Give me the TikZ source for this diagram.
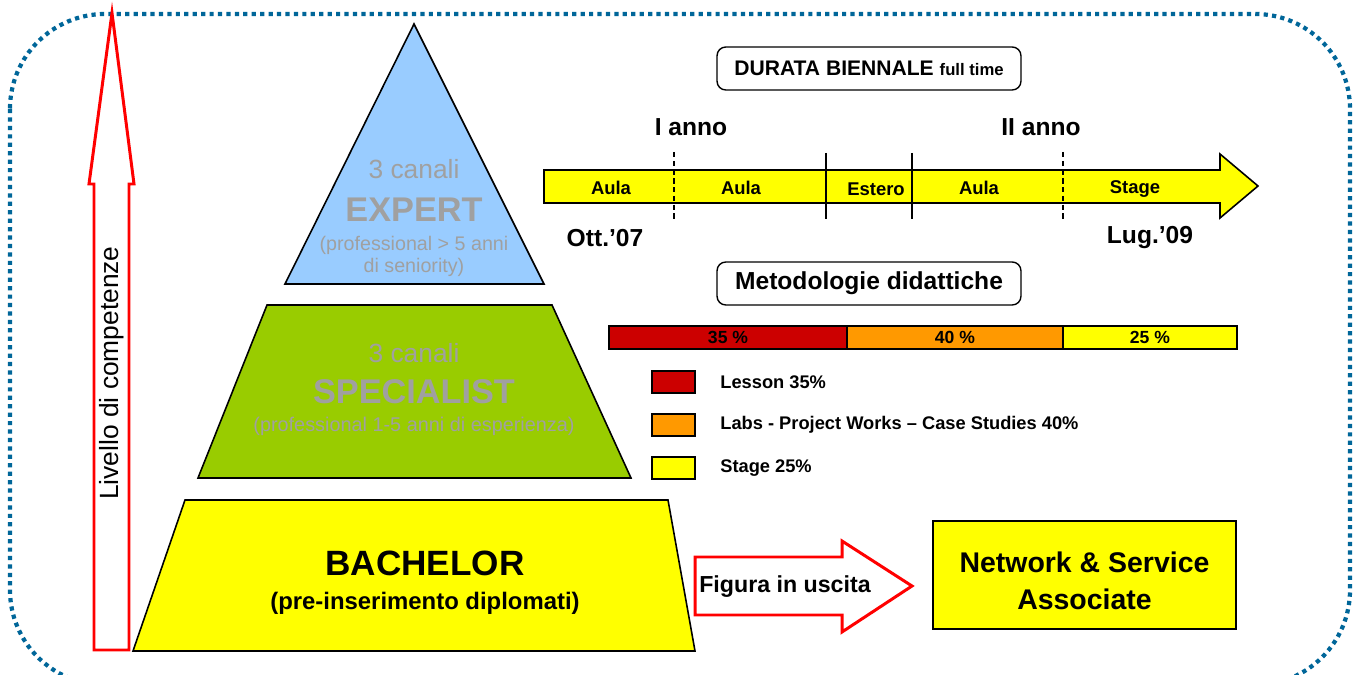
\documentclass[tikz,border=0pt]{standalone}
\usepackage{fontspec}
\setmainfont{Liberation Sans}
\usetikzlibrary{positioning}

\definecolor{bordo}{HTML}{006699}
\definecolor{celeste}{HTML}{99CCFF}
\definecolor{verde}{HTML}{99CC00}
\definecolor{giallo}{HTML}{FFFF00}
\definecolor{rosso}{HTML}{CC0000}
\definecolor{arancio}{HTML}{FF9900}
\definecolor{grigio}{HTML}{A0A0A0}

\newcommand\fpt[2]{\fontsize{#1}{#2}\selectfont}

\tikzset{
  livello/.style={draw=black, line width=0.9pt},
  grigiotxt/.style={text=grigio, align=center, inner sep=0pt},
  titolo/.style={draw=black, rounded corners=5pt, line width=0.8pt,
    minimum width=6.08cm, minimum height=0.86cm, inner sep=0pt},
  cella/.style={draw=black, line width=0.8pt, minimum height=0.46cm,
    inner sep=0pt, outer sep=0pt, font=\fpt{10}{12}\bfseries},
  quadro/.style={draw=black, line width=0.8pt, minimum width=0.86cm,
    minimum height=0.44cm, inner sep=0pt},
  voce/.style={anchor=west, inner sep=0pt, font=\fpt{10.4}{12}\bfseries},
  fase/.style={inner sep=0pt, font=\fpt{10.5}{12}\bfseries},
  rossa/.style={draw=red, line width=1.7pt, fill=white}
}

\begin{document}
\begin{tikzpicture}[x=0.02cm, y=-0.02cm, line join=miter]
\useasboundingbox (0,0) rectangle (1356,675);

% cornice
\draw[bordo, line width=2.4pt, dash pattern=on 2.4pt off 2.4pt, rounded corners=1.9cm]
  (10,14) rectangle (1350,685);

% freccia livello
\draw[rossa] (94,650) -- (94,184) -- (89,184) -- (112,13) -- (134,184)
  -- (129,184) -- (129,650) -- cycle;
\node[rotate=90, inner sep=0pt] (livello) at (112,373) {\fpt{15}{18}Livello di competenze};

% piramide
\draw[livello, fill=celeste] (414,24) -- (544,284) -- (285,284) -- cycle;
\draw[livello, fill=verde] (267,305) -- (552,305) -- (631,478) -- (198,478) -- cycle;
\draw[livello, fill=giallo] (185,500) -- (668,500) -- (695,651) -- (133,651) -- cycle;

\node[grigiotxt, font=\fpt{15}{18}] (excan) at (414,169) {3 canali};
\node[grigiotxt, font=\fpt{19.5}{22}\bfseries] (expert) at (414,210) {EXPERT};
\node[grigiotxt, font=\fpt{11.2}{12.5}] (exnote) at (414,256) {(professional > 5 anni\\di seniority)};
\node[grigiotxt, font=\fpt{15}{18}] (spcan) at (414,353) {3 canali};
\node[grigiotxt, font=\fpt{19.5}{22}\bfseries] (special) at (414,392) {SPECIALIST};
\node[grigiotxt, font=\fpt{11.3}{13}] (spnote) at (414,426) {(professional 1-5 anni di esperienza)};
\node[inner sep=0pt, font=\fpt{20}{24}\bfseries] (bachelor) at (425,563) {BACHELOR};
\node[inner sep=0pt, font=\fpt{13.6}{16}\bfseries] (banote) at (425,603) {(pre-inserimento diplomati)};

% durata
\node[titolo] (durata) at (869,68.5) {\fpt{12}{14}\bfseries DURATA BIENNALE {\fpt{9.5}{11}full time}};
\node[inner sep=0pt] (anno1) at (691,127) {\fpt{14}{16}\bfseries I anno};
\node[inner sep=0pt] (anno2) at (1041,127) {\fpt{14}{16}\bfseries II anno};

\draw[livello, fill=giallo] (544,170) -- (1220,170) -- (1220,154) -- (1258,186)
  -- (1220,218) -- (1220,203) -- (544,203) -- cycle;
\draw[line width=0.8pt, dash pattern=on 3pt off 2pt] (674,152) -- (674,220);
\draw[line width=0.8pt] (826,153) -- (826,219);
\draw[line width=0.8pt] (912,153) -- (912,219);
\draw[line width=0.8pt, dash pattern=on 3pt off 2pt] (1063,152) -- (1063,220);

\node[fase] (aula1) at (611,188) {Aula};
\node[fase] (aula2) at (741,188) {Aula};
\node[fase] (estero) at (876,189) {Estero};
\node[fase] (aula3) at (979,188) {Aula};
\node[fase] (stage) at (1135,189) {Stage};

\node[inner sep=0pt] (inizio) at (605,238) {\fpt{14}{16}\bfseries Ott.'07};
\node[inner sep=0pt] (fine) at (1150,238) {\fpt{14}{16}\bfseries Lug.'09};

% metodologie
\node[titolo] (metodo) at (869,283.5) {\fpt{14}{16}\bfseries Metodologie didattiche};

\node[cella, fill=rosso, minimum width=4.76cm] (c35) at (728,337.5) {35 \%};
\node[cella, fill=arancio, minimum width=4.32cm, right=0pt of c35] (c40) {40 \%};
\node[cella, fill=giallo, minimum width=3.48cm, right=0pt of c40] (c25) {25 \%};

\node[quadro, fill=rosso] (qlesson) at (673.5,382) {};
\node[quadro, fill=arancio] (qlabs) at (673.5,425) {};
\node[quadro, fill=giallo] (qstage) at (673.5,468) {};
\node[voce] (lesson) at (720,382) {Lesson 35\%};
\node[voce] (labs) at (720,425) {Labs - Project Works -- Case Studies 40\%};
\node[voce] (vstage) at (720,468) {Stage 25\%};

% uscita
\draw[rossa] (695,557) -- (842,557) -- (842,541) -- (912,586) -- (842,632)
  -- (842,615) -- (695,615) -- cycle;
\node[inner sep=0pt] (figura) at (785,587) {\fpt{13.2}{16}\bfseries Figura in uscita};
\node[draw=black, line width=1.2pt, fill=giallo, minimum width=6.06cm, minimum height=2.16cm,
  align=center, inner sep=0pt, font=\fpt{16.2}{21}\bfseries] (network) at (1084.5,575)
  {\parbox{5.5cm}{\centering\vspace*{7pt}Network \& Service\\Associate}};

\end{tikzpicture}
\end{document}
